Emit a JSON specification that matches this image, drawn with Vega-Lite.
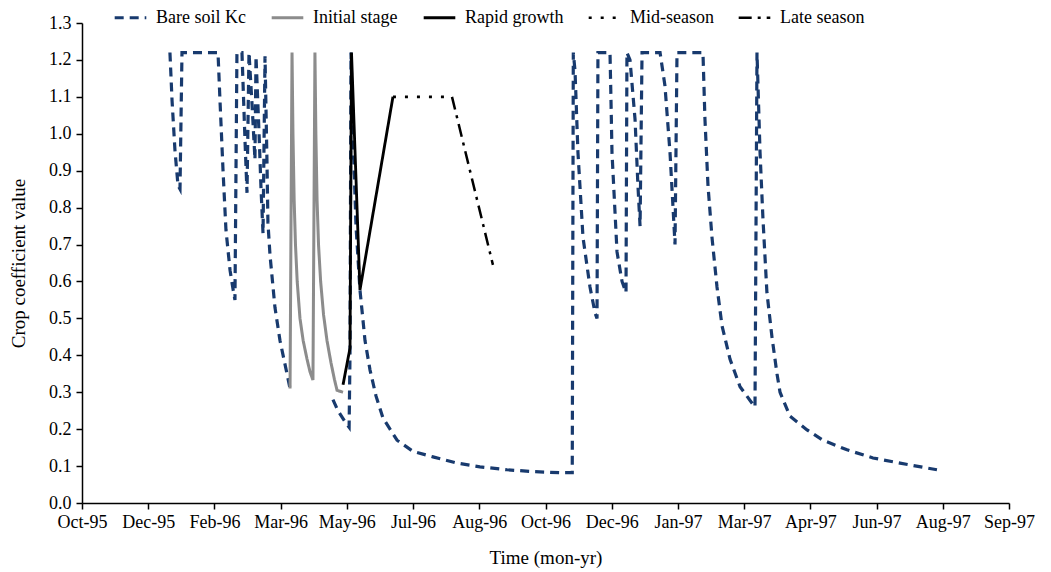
{
  "$schema": "https://vega.github.io/schema/vega-lite/v6.json",
  "autosize": {"type": "none"},
  "padding": {"left": 82, "top": 23, "right": 42, "bottom": 69},
  "width": 927,
  "height": 480,
  "background": "white",
  "config": {
    "view": {"stroke": null},
    "font": "Liberation Serif",
    "axis": {
      "grid": false,
      "domainColor": "#000",
      "domainWidth": 1.5,
      "tickColor": "#000",
      "tickWidth": 1.5,
      "tickSize": 6,
      "labelFont": "Liberation Serif",
      "labelFontSize": 18,
      "labelColor": "#000",
      "labelOverlap": false,
      "labelFlush": false,
      "titleFont": "Liberation Serif",
      "titleFontSize": 19,
      "titleFontWeight": "normal",
      "titleColor": "#000"
    },
    "legend": {
      "labelFont": "Liberation Serif",
      "labelFontSize": 18,
      "labelColor": "#000"
    }
  },
  "data": {
    "values": [
      {"series": "Bare soil Kc", "seg": 1, "day": 66.4, "kc": 1.22},
      {"series": "Bare soil Kc", "seg": 1, "day": 68.0, "kc": 1.09},
      {"series": "Bare soil Kc", "seg": 1, "day": 70.2, "kc": 0.955},
      {"series": "Bare soil Kc", "seg": 1, "day": 72.5, "kc": 0.86},
      {"series": "Bare soil Kc", "seg": 1, "day": 74.0, "kc": 0.85},
      {"series": "Bare soil Kc", "seg": 1, "day": 75.5, "kc": 1.22},
      {"series": "Bare soil Kc", "seg": 1, "day": 102.7, "kc": 1.22},
      {"series": "Bare soil Kc", "seg": 1, "day": 104.2, "kc": 1.09},
      {"series": "Bare soil Kc", "seg": 1, "day": 106.5, "kc": 0.90},
      {"series": "Bare soil Kc", "seg": 1, "day": 108.7, "kc": 0.74},
      {"series": "Bare soil Kc", "seg": 1, "day": 111.8, "kc": 0.63},
      {"series": "Bare soil Kc", "seg": 1, "day": 114.0, "kc": 0.58},
      {"series": "Bare soil Kc", "seg": 1, "day": 115.5, "kc": 0.55},
      {"series": "Bare soil Kc", "seg": 1, "day": 117.0, "kc": 1.22},
      {"series": "Bare soil Kc", "seg": 1, "day": 120.8, "kc": 1.22},
      {"series": "Bare soil Kc", "seg": 1, "day": 123.1, "kc": 0.98},
      {"series": "Bare soil Kc", "seg": 1, "day": 124.6, "kc": 0.84},
      {"series": "Bare soil Kc", "seg": 1, "day": 126.1, "kc": 1.22},
      {"series": "Bare soil Kc", "seg": 1, "day": 128.4, "kc": 1.08},
      {"series": "Bare soil Kc", "seg": 1, "day": 130.6, "kc": 0.93},
      {"series": "Bare soil Kc", "seg": 1, "day": 131.4, "kc": 1.21},
      {"series": "Bare soil Kc", "seg": 1, "day": 133.7, "kc": 1.0},
      {"series": "Bare soil Kc", "seg": 1, "day": 135.2, "kc": 0.85},
      {"series": "Bare soil Kc", "seg": 1, "day": 136.7, "kc": 0.73},
      {"series": "Bare soil Kc", "seg": 1, "day": 138.2, "kc": 1.21},
      {"series": "Bare soil Kc", "seg": 1, "day": 139.7, "kc": 0.92},
      {"series": "Bare soil Kc", "seg": 1, "day": 140.4, "kc": 0.76},
      {"series": "Bare soil Kc", "seg": 1, "day": 142.0, "kc": 0.67},
      {"series": "Bare soil Kc", "seg": 1, "day": 145.7, "kc": 0.53},
      {"series": "Bare soil Kc", "seg": 1, "day": 149.5, "kc": 0.44},
      {"series": "Bare soil Kc", "seg": 1, "day": 154.8, "kc": 0.35},
      {"series": "Bare soil Kc", "seg": 1, "day": 157.1, "kc": 0.31},
      {"series": "Bare soil Kc", "seg": 2, "day": 189.5, "kc": 0.28},
      {"series": "Bare soil Kc", "seg": 2, "day": 193.3, "kc": 0.25},
      {"series": "Bare soil Kc", "seg": 2, "day": 198.6, "kc": 0.22},
      {"series": "Bare soil Kc", "seg": 2, "day": 201.7, "kc": 0.205},
      {"series": "Bare soil Kc", "seg": 2, "day": 202.4, "kc": 0.41},
      {"series": "Bare soil Kc", "seg": 2, "day": 203.1, "kc": 1.22},
      {"series": "Bare soil Kc", "seg": 2, "day": 204.6, "kc": 1.0},
      {"series": "Bare soil Kc", "seg": 2, "day": 206.9, "kc": 0.75},
      {"series": "Bare soil Kc", "seg": 2, "day": 209.9, "kc": 0.577},
      {"series": "Bare soil Kc", "seg": 2, "day": 213.7, "kc": 0.44},
      {"series": "Bare soil Kc", "seg": 2, "day": 217.5, "kc": 0.36},
      {"series": "Bare soil Kc", "seg": 2, "day": 222.0, "kc": 0.29},
      {"series": "Bare soil Kc", "seg": 2, "day": 227.3, "kc": 0.23},
      {"series": "Bare soil Kc", "seg": 2, "day": 232.6, "kc": 0.20},
      {"series": "Bare soil Kc", "seg": 2, "day": 237.9, "kc": 0.17},
      {"series": "Bare soil Kc", "seg": 2, "day": 249.9, "kc": 0.14},
      {"series": "Bare soil Kc", "seg": 2, "day": 265.0, "kc": 0.125},
      {"series": "Bare soil Kc", "seg": 2, "day": 283.2, "kc": 0.108},
      {"series": "Bare soil Kc", "seg": 2, "day": 300.5, "kc": 0.098},
      {"series": "Bare soil Kc", "seg": 2, "day": 320.9, "kc": 0.09},
      {"series": "Bare soil Kc", "seg": 2, "day": 340.6, "kc": 0.085},
      {"series": "Bare soil Kc", "seg": 2, "day": 360.9, "kc": 0.082},
      {"series": "Bare soil Kc", "seg": 2, "day": 370.2, "kc": 0.082},
      {"series": "Bare soil Kc", "seg": 2, "day": 371.0, "kc": 1.22},
      {"series": "Bare soil Kc", "seg": 2, "day": 372.3, "kc": 1.17},
      {"series": "Bare soil Kc", "seg": 2, "day": 374.5, "kc": 0.95},
      {"series": "Bare soil Kc", "seg": 2, "day": 378.3, "kc": 0.72},
      {"series": "Bare soil Kc", "seg": 2, "day": 383.6, "kc": 0.585},
      {"series": "Bare soil Kc", "seg": 2, "day": 387.4, "kc": 0.515},
      {"series": "Bare soil Kc", "seg": 2, "day": 388.9, "kc": 0.50},
      {"series": "Bare soil Kc", "seg": 2, "day": 389.6, "kc": 1.22},
      {"series": "Bare soil Kc", "seg": 2, "day": 398.7, "kc": 1.22},
      {"series": "Bare soil Kc", "seg": 2, "day": 399.4, "kc": 1.1},
      {"series": "Bare soil Kc", "seg": 2, "day": 400.2, "kc": 0.95},
      {"series": "Bare soil Kc", "seg": 2, "day": 404.0, "kc": 0.68},
      {"series": "Bare soil Kc", "seg": 2, "day": 407.8, "kc": 0.60},
      {"series": "Bare soil Kc", "seg": 2, "day": 410.8, "kc": 0.57},
      {"series": "Bare soil Kc", "seg": 2, "day": 411.5, "kc": 1.22},
      {"series": "Bare soil Kc", "seg": 2, "day": 413.8, "kc": 1.2},
      {"series": "Bare soil Kc", "seg": 2, "day": 417.6, "kc": 1.04},
      {"series": "Bare soil Kc", "seg": 2, "day": 419.8, "kc": 0.86},
      {"series": "Bare soil Kc", "seg": 2, "day": 421.4, "kc": 0.75},
      {"series": "Bare soil Kc", "seg": 2, "day": 422.9, "kc": 1.22},
      {"series": "Bare soil Kc", "seg": 2, "day": 436.5, "kc": 1.22},
      {"series": "Bare soil Kc", "seg": 2, "day": 440.2, "kc": 1.13},
      {"series": "Bare soil Kc", "seg": 2, "day": 444.0, "kc": 0.95},
      {"series": "Bare soil Kc", "seg": 2, "day": 446.3, "kc": 0.80},
      {"series": "Bare soil Kc", "seg": 2, "day": 447.8, "kc": 0.70},
      {"series": "Bare soil Kc", "seg": 2, "day": 449.3, "kc": 1.22},
      {"series": "Bare soil Kc", "seg": 2, "day": 468.9, "kc": 1.22},
      {"series": "Bare soil Kc", "seg": 2, "day": 470.4, "kc": 1.04},
      {"series": "Bare soil Kc", "seg": 2, "day": 472.7, "kc": 0.86},
      {"series": "Bare soil Kc", "seg": 2, "day": 475.7, "kc": 0.72},
      {"series": "Bare soil Kc", "seg": 2, "day": 479.5, "kc": 0.585},
      {"series": "Bare soil Kc", "seg": 2, "day": 483.3, "kc": 0.48},
      {"series": "Bare soil Kc", "seg": 2, "day": 489.3, "kc": 0.39},
      {"series": "Bare soil Kc", "seg": 2, "day": 496.9, "kc": 0.315},
      {"series": "Bare soil Kc", "seg": 2, "day": 506.0, "kc": 0.27},
      {"series": "Bare soil Kc", "seg": 2, "day": 508.2, "kc": 0.26},
      {"series": "Bare soil Kc", "seg": 2, "day": 509.7, "kc": 1.22},
      {"series": "Bare soil Kc", "seg": 2, "day": 512.0, "kc": 0.95},
      {"series": "Bare soil Kc", "seg": 2, "day": 514.2, "kc": 0.77},
      {"series": "Bare soil Kc", "seg": 2, "day": 517.2, "kc": 0.57},
      {"series": "Bare soil Kc", "seg": 2, "day": 521.0, "kc": 0.45},
      {"series": "Bare soil Kc", "seg": 2, "day": 524.8, "kc": 0.35},
      {"series": "Bare soil Kc", "seg": 2, "day": 527.1, "kc": 0.30},
      {"series": "Bare soil Kc", "seg": 2, "day": 534.6, "kc": 0.235},
      {"series": "Bare soil Kc", "seg": 2, "day": 547.5, "kc": 0.198},
      {"series": "Bare soil Kc", "seg": 2, "day": 559.5, "kc": 0.17},
      {"series": "Bare soil Kc", "seg": 2, "day": 577.7, "kc": 0.144},
      {"series": "Bare soil Kc", "seg": 2, "day": 597.3, "kc": 0.122},
      {"series": "Bare soil Kc", "seg": 2, "day": 617.7, "kc": 0.108},
      {"series": "Bare soil Kc", "seg": 2, "day": 645.6, "kc": 0.09},
      {"series": "Initial stage", "seg": 3, "day": 157.1, "kc": 0.31},
      {"series": "Initial stage", "seg": 3, "day": 158.6, "kc": 1.22},
      {"series": "Initial stage", "seg": 3, "day": 159.3, "kc": 1.0},
      {"series": "Initial stage", "seg": 3, "day": 160.2, "kc": 0.82},
      {"series": "Initial stage", "seg": 3, "day": 161.2, "kc": 0.7},
      {"series": "Initial stage", "seg": 3, "day": 162.5, "kc": 0.6},
      {"series": "Initial stage", "seg": 3, "day": 164.6, "kc": 0.5},
      {"series": "Initial stage", "seg": 3, "day": 167.0, "kc": 0.44},
      {"series": "Initial stage", "seg": 3, "day": 169.9, "kc": 0.39},
      {"series": "Initial stage", "seg": 3, "day": 172.2, "kc": 0.355},
      {"series": "Initial stage", "seg": 3, "day": 174.4, "kc": 0.333},
      {"series": "Initial stage", "seg": 3, "day": 175.9, "kc": 1.22},
      {"series": "Initial stage", "seg": 3, "day": 176.6, "kc": 1.0},
      {"series": "Initial stage", "seg": 3, "day": 177.5, "kc": 0.82},
      {"series": "Initial stage", "seg": 3, "day": 178.6, "kc": 0.7},
      {"series": "Initial stage", "seg": 3, "day": 180.2, "kc": 0.6},
      {"series": "Initial stage", "seg": 3, "day": 182.4, "kc": 0.51},
      {"series": "Initial stage", "seg": 3, "day": 185.0, "kc": 0.44},
      {"series": "Initial stage", "seg": 3, "day": 188.0, "kc": 0.38},
      {"series": "Initial stage", "seg": 3, "day": 190.6, "kc": 0.335},
      {"series": "Initial stage", "seg": 3, "day": 192.6, "kc": 0.305},
      {"series": "Initial stage", "seg": 3, "day": 197.1, "kc": 0.30},
      {"series": "Rapid growth", "seg": 4, "day": 197.1, "kc": 0.32},
      {"series": "Rapid growth", "seg": 4, "day": 202.4, "kc": 0.42},
      {"series": "Rapid growth", "seg": 4, "day": 203.5, "kc": 1.22},
      {"series": "Rapid growth", "seg": 4, "day": 209.9, "kc": 0.577},
      {"series": "Rapid growth", "seg": 4, "day": 234.8, "kc": 1.10},
      {"series": "Mid-season", "seg": 5, "day": 234.8, "kc": 1.10},
      {"series": "Mid-season", "seg": 5, "day": 279.4, "kc": 1.10},
      {"series": "Late season", "seg": 6, "day": 279.4, "kc": 1.10},
      {"series": "Late season", "seg": 6, "day": 310.3, "kc": 0.645}
    ]
  },
  "mark": {"type": "line", "strokeCap": "butt"},
  "encoding": {
    "x": {
      "field": "day",
      "type": "quantitative",
      "scale": {"domain": [0, 700], "nice": false, "zero": false},
      "axis": {
        "values": [0, 50, 100, 150, 200, 250, 300, 350, 400, 450, 500, 550, 600, 650, 700],
        "labelExpr": "timeFormat(time(datetime(1995, 9, 28, 12)) + datum.value * 86400000, '%b-%y')",
        "labelPadding": 4,
        "title": "Time (mon-yr)",
        "titlePadding": 17
      }
    },
    "y": {
      "field": "kc",
      "type": "quantitative",
      "scale": {"domain": [0, 1.3], "nice": false},
      "axis": {
        "values": [0, 0.1, 0.2, 0.3, 0.4, 0.5, 0.6, 0.7, 0.8, 0.9, 1.0, 1.1, 1.2, 1.3],
        "format": ".1f",
        "labelPadding": 5,
        "title": "Crop coefficient value",
        "titlePadding": 20
      }
    },
    "detail": {"field": "seg", "type": "nominal"},
    "color": {
      "field": "series",
      "type": "nominal",
      "scale": {
        "domain": ["Bare soil Kc", "Initial stage", "Rapid growth", "Mid-season", "Late season"],
        "range": ["#183a6e", "#8c8c8c", "#000000", "#000000", "#000000"]
      },
      "legend": {
        "title": null,
        "orient": "none",
        "direction": "horizontal",
        "legendX": 31,
        "legendY": -23,
        "symbolSize": 1000,
        "symbolStrokeWidth": 3,
        "labelOffset": 8,
        "columnPadding": 19
      }
    },
    "strokeDash": {
      "field": "series",
      "type": "nominal",
      "scale": {
        "domain": ["Bare soil Kc", "Initial stage", "Rapid growth", "Mid-season", "Late season"],
        "range": [[9, 6], [1, 0], [1, 0], [3, 9], [13, 6, 3, 6]]
      },
      "legend": {
        "title": null,
        "orient": "none",
        "direction": "horizontal",
        "legendX": 31,
        "legendY": -23,
        "symbolSize": 1000,
        "symbolStrokeWidth": 3,
        "labelOffset": 8,
        "columnPadding": 19
      }
    },
    "strokeWidth": {
      "field": "series",
      "type": "nominal",
      "scale": {
        "domain": ["Bare soil Kc", "Initial stage", "Rapid growth", "Mid-season", "Late season"],
        "range": [3.2, 2.5, 3, 3, 3.2]
      },
      "legend": null
    }
  }
}
